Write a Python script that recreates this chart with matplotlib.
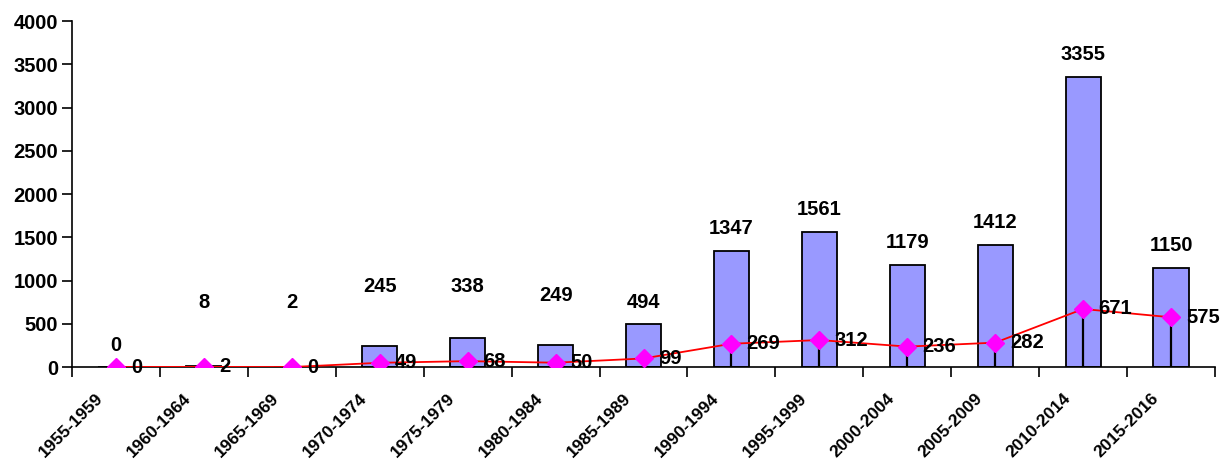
import matplotlib.pyplot as plt
import matplotlib.transforms as mtransforms
import numpy as np

plt.rcParams['font.family'] = ['Liberation Sans', 'DejaVu Sans']
plt.rcParams['font.weight'] = 'bold'

periods = ['1955-1959', '1960-1964', '1965-1969', '1970-1974', '1975-1979',
           '1980-1984', '1985-1989', '1990-1994', '1995-1999', '2000-2004',
           '2005-2009', '2010-2014', '2015-2016']
totals = [0, 8, 2, 245, 338, 249, 494, 1347, 1561, 1179, 1412, 3355, 1150]
subset = [0, 2, 0, 49, 68, 50, 99, 269, 312, 236, 282, 671, 575]

# where excel pushed the small bar labels (data units), others sit above the bar
label_override = {0: 254, 1: 751, 2: 751, 3: 936, 4: 936, 5: 832}

fig = plt.figure(figsize=(12.22, 4.63), dpi=100)
ax = fig.add_axes([0.0589, 0.2073, 0.9354, 0.7473])

x = np.arange(len(periods))
ax.bar(x, totals, width=0.4, color='#9999ff', edgecolor='black', linewidth=1.3, zorder=2)

# drop lines from markers
ax.vlines(x, 0, subset, color='black', linewidth=1.6, zorder=3)
ax.plot(x, subset, color='red', linewidth=1.3, marker='D', markersize=9,
        markerfacecolor='#ff00ff', markeredgecolor='#ff00ff', zorder=4)

for i, v in enumerate(totals):
    ypos = label_override.get(i, v + 255)
    ax.text(x[i], ypos, str(v), ha='center', va='center', fontsize=14.5, fontweight='bold')

for i, v in enumerate(subset):
    ax.annotate(str(v), (x[i], v), xytext=(11, 0), textcoords='offset points',
                ha='left', va='center', fontsize=14.5, fontweight='bold', zorder=5)

ax.set_xlim(-0.5, len(periods) - 0.5)
ax.set_ylim(0, 4000)
ax.set_yticks(np.arange(0, 4001, 500))
ax.tick_params(axis='y', direction='out', length=7, width=1.2, labelsize=14.5, pad=3)

ax.set_xticks(np.arange(-0.5, len(periods), 1))
ax.set_xticklabels([])
ax.tick_params(axis='x', which='major', direction='out', length=7, width=1.2)
ax.set_xticks(x, minor=True)
ax.set_xticklabels(periods, minor=True, rotation=45, ha='right', va='center',
                   rotation_mode='anchor', fontsize=12.5, fontweight='bold')
ax.tick_params(axis='x', which='minor', length=0, pad=21)
shift = mtransforms.ScaledTranslation(-0.15, 0, fig.dpi_scale_trans)
for lab in ax.get_xticklabels(minor=True):
    lab.set_transform(lab.get_transform() + shift)

for s in ['top', 'right']:
    ax.spines[s].set_visible(False)
ax.spines['left'].set_linewidth(1.2)
ax.spines['bottom'].set_linewidth(1.2)

fig.savefig('out.png', dpi=100)
